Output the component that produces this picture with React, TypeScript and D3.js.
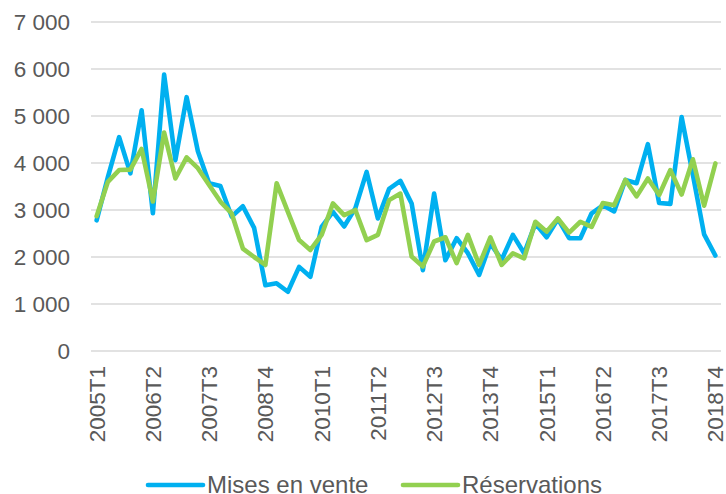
import React from 'react';
import * as d3 from 'd3';

// quarters 2005T1 .. 2018T4
const years = d3.range(2005, 2019);
const quarters = years.flatMap(y => [1, 2, 3, 4].map(q => `${y}T${q}`));

const tickLabels = ['2005T1', '2006T2', '2007T3', '2008T4', '2010T1', '2011T2',
    '2012T3', '2013T4', '2015T1', '2016T2', '2017T3', '2018T4'];

const yTicks = [0, 1000, 2000, 3000, 4000, 5000, 6000, 7000];

const misesEnVente = [
    2780, 3700, 4550, 3780, 5120, 2930, 5880, 4060, 5400, 4250,
    3570, 3510, 2860, 3080, 2620, 1400, 1440, 1260, 1790, 1580,
    2640, 2960, 2650, 3040, 3810, 2820, 3450, 3620, 3140, 1720,
    3350, 1930, 2400, 2080, 1620, 2290, 1940, 2470, 2080, 2710,
    2420, 2810, 2400, 2400, 2930, 3100, 2970, 3640, 3570, 4400,
    3150, 3130, 4980, 3750, 2480, 2030
];

const reservations = [
    2870, 3600, 3850, 3860, 4300, 3180, 4650, 3670, 4120, 3890,
    3530, 3180, 2930, 2180, 2000, 1830, 3570, 2960, 2360, 2150,
    2470, 3140, 2890, 3000, 2360, 2470, 3210, 3350, 2010, 1800,
    2330, 2420, 1870, 2470, 1830, 2420, 1830, 2080, 1970, 2750,
    2540, 2820, 2520, 2750, 2640, 3150, 3100, 3640, 3290, 3670,
    3320, 3850, 3330, 4080, 3090, 3990
];

const series = [
    { name: 'Mises en vente', values: misesEnVente, color: '#00B0F0' },
    { name: 'Réservations', values: reservations, color: '#92D050' }
];

const W = 726, H = 494;
const textColor = '#595959';
const font = '"Liberation Sans", Arial, sans-serif';

export default function App() {
    const x = d3.scalePoint<string>().domain(quarters).range([91, 721]).padding(0.5);
    const y = d3.scaleLinear().domain([0, 7000]).range([351, 22]);
    const fmt = (v: number) => d3.format(',')(v).replace(',', ' ');

    const line = (vals: number[]) => d3.line<number>()
        .x((d, i) => x(quarters[i])!)
        .y(d => y(d))(vals)!;

    const legendPos = [148, 403];

    return (
        <svg width={W} height={H} style={{ position: 'absolute', left: 0, top: 0, background: '#fff' }}
            fontFamily={font}>
            {/* gridlines */}
            {yTicks.map(t => (
                <g key={t}>
                    <line x1={91} x2={721} y1={y(t)} y2={y(t)} stroke="#D9D9D9" strokeWidth={1.3} />
                    <text x={70} y={y(t)} dy="0.36em" textAnchor="end" fontSize={22.5} fill={textColor}>
                        {fmt(t)}
                    </text>
                </g>
            ))}

            {/* x labels */}
            {tickLabels.map(l => (
                <text key={l} transform={`translate(${x(l)},366) rotate(-90)`} dy="0.36em"
                    textAnchor="end" fontSize={22.5} fill={textColor}>{l}</text>
            ))}

            {series.map(s => (
                <path key={s.name} d={line(s.values)} fill="none" stroke={s.color}
                    strokeWidth={4.6} strokeLinejoin="round" strokeLinecap="round" />
            ))}

            {/* legend */}
            {series.map((s, i) => (
                <g key={s.name} transform={`translate(${legendPos[i]},485)`}>
                    <line x1={0} x2={55} y1={0} y2={0} stroke={s.color} strokeWidth={4.6} strokeLinecap="round" />
                    <text x={59} y={0} dy="0.35em" fontSize={24} fill={textColor}>{s.name}</text>
                </g>
            ))}
        </svg>
    );
}
